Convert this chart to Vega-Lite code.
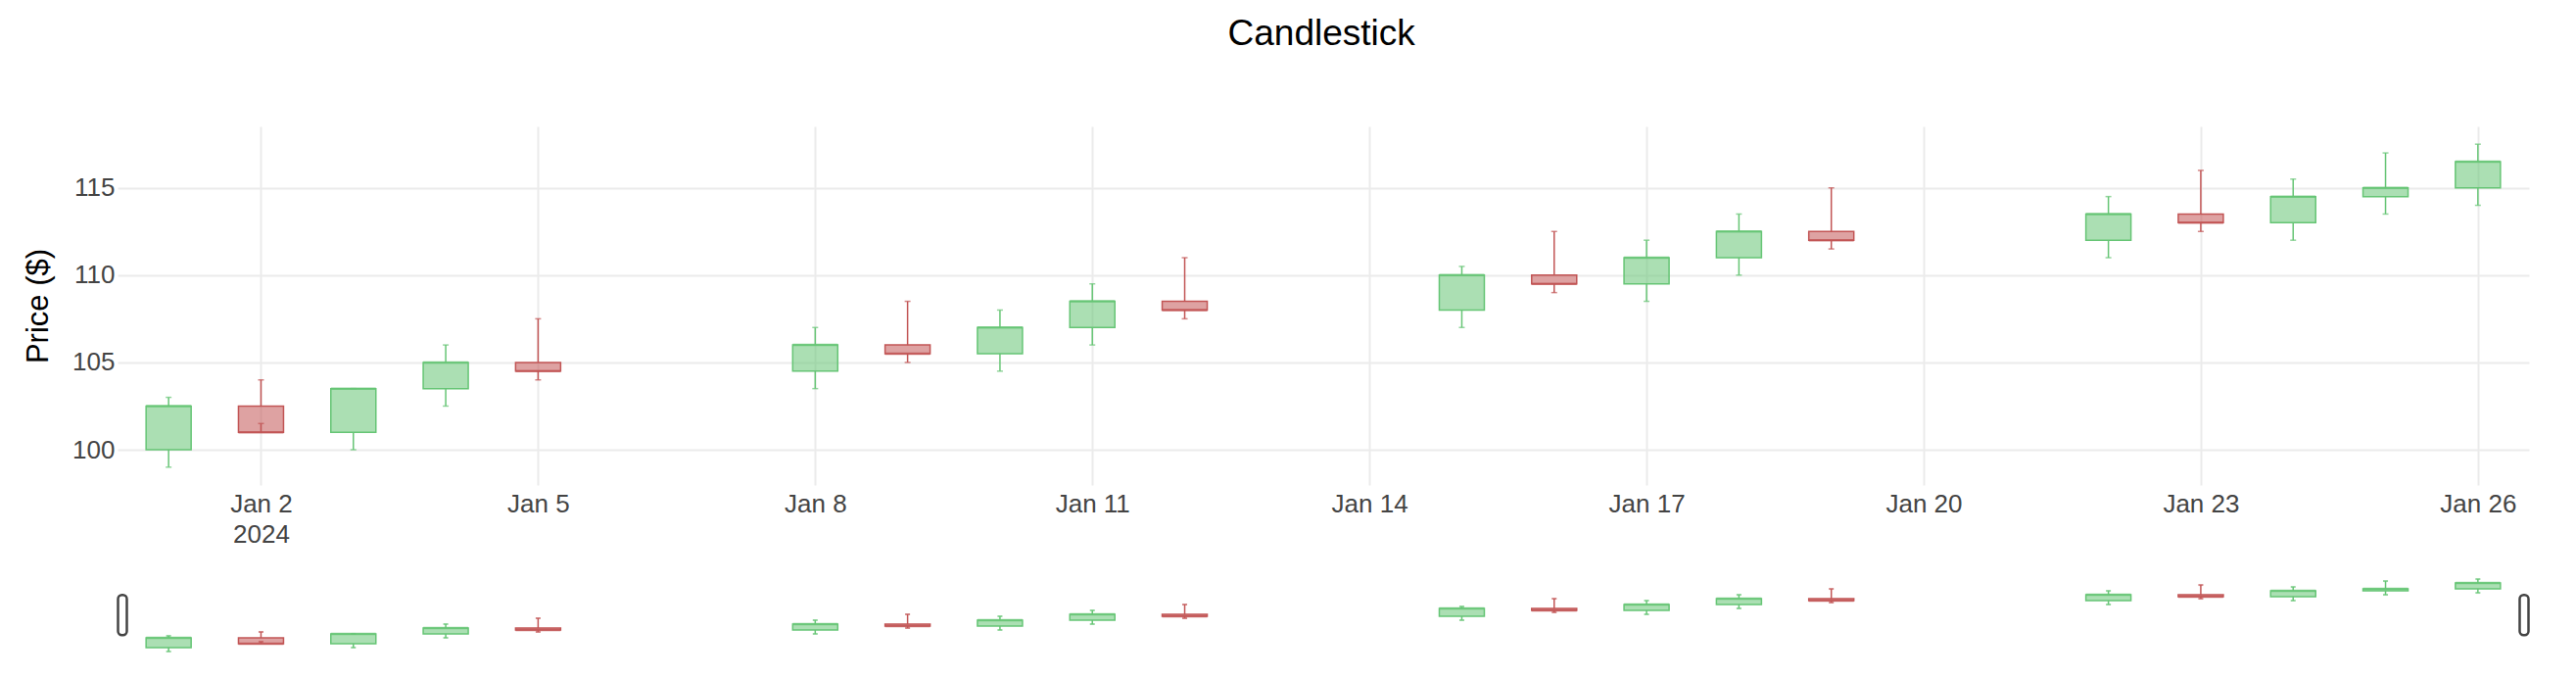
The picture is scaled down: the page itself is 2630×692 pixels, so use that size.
{
  "$schema": "https://vega.github.io/schema/vega-lite/v6.json",
  "background": "white",
  "padding": {"left": 23, "top": 16, "right": 36, "bottom": 22},
  "title": {"text": "Candlestick", "fontSize": 37, "font": "Liberation Sans", "fontWeight": "normal", "color": "#000000", "anchor": "middle", "baseline": "alphabetic", "offset": 46, "dx": 46},
  "data": {"values": [
    {"date": "2024-01-01T00:00:00", "open": 100, "high": 103, "low": 99, "close": 102.5},
    {"date": "2024-01-02T00:00:00", "open": 102.5, "high": 104, "low": 101.5, "close": 101},
    {"date": "2024-01-03T00:00:00", "open": 101, "high": 103.5, "low": 100, "close": 103.5},
    {"date": "2024-01-04T00:00:00", "open": 103.5, "high": 106, "low": 102.5, "close": 105},
    {"date": "2024-01-05T00:00:00", "open": 105, "high": 107.5, "low": 104, "close": 104.5},
    {"date": "2024-01-08T00:00:00", "open": 104.5, "high": 107, "low": 103.5, "close": 106},
    {"date": "2024-01-09T00:00:00", "open": 106, "high": 108.5, "low": 105, "close": 105.5},
    {"date": "2024-01-10T00:00:00", "open": 105.5, "high": 108, "low": 104.5, "close": 107},
    {"date": "2024-01-11T00:00:00", "open": 107, "high": 109.5, "low": 106, "close": 108.5},
    {"date": "2024-01-12T00:00:00", "open": 108.5, "high": 111, "low": 107.5, "close": 108},
    {"date": "2024-01-15T00:00:00", "open": 108, "high": 110.5, "low": 107, "close": 110},
    {"date": "2024-01-16T00:00:00", "open": 110, "high": 112.5, "low": 109, "close": 109.5},
    {"date": "2024-01-17T00:00:00", "open": 109.5, "high": 112, "low": 108.5, "close": 111},
    {"date": "2024-01-18T00:00:00", "open": 111, "high": 113.5, "low": 110, "close": 112.5},
    {"date": "2024-01-19T00:00:00", "open": 112.5, "high": 115, "low": 111.5, "close": 112},
    {"date": "2024-01-22T00:00:00", "open": 112, "high": 114.5, "low": 111, "close": 113.5},
    {"date": "2024-01-23T00:00:00", "open": 113.5, "high": 116, "low": 112.5, "close": 113},
    {"date": "2024-01-24T00:00:00", "open": 113, "high": 115.5, "low": 112, "close": 114.5},
    {"date": "2024-01-25T00:00:00", "open": 114.5, "high": 117, "low": 113.5, "close": 115},
    {"date": "2024-01-26T00:00:00", "open": 115, "high": 117.5, "low": 114, "close": 116.5}
  ]},
  "bounds": "flush",
  "spacing": 92,
  "vconcat": [
    {
      "width": 2462,
      "height": 366,
      "encoding": {
        "x": {
          "field": "date", "type": "temporal",
          "scale": {"domain": [{"year": 2023, "month": 12, "date": 31, "hours": 12}, {"year": 2024, "month": 1, "date": 26, "hours": 12}]},
          "axis": {
            "title": null,
            "values": [
              {"year": 2024, "month": 1, "date": 2}, {"year": 2024, "month": 1, "date": 5}, {"year": 2024, "month": 1, "date": 8},
              {"year": 2024, "month": 1, "date": 11}, {"year": 2024, "month": 1, "date": 14}, {"year": 2024, "month": 1, "date": 17},
              {"year": 2024, "month": 1, "date": 20}, {"year": 2024, "month": 1, "date": 23}, {"year": 2024, "month": 1, "date": 26}
            ],
            "labelExpr": "date(datum.value) == 2 ? [timeFormat(datum.value, '%b %-d'), '2024'] : timeFormat(datum.value, '%b %-d')",
            "grid": true, "gridColor": "#ebebeb", "gridWidth": 2,
            "domain": false, "ticks": false,
            "labelFont": "Liberation Sans", "labelFontSize": 26, "labelColor": "#444444",
            "labelPadding": 6, "labelLineHeight": 31, "labelOverlap": false, "labelFlush": false,
            "labelBaseline": "top"
          }
        }
      },
      "layer": [
        {
          "mark": {"type": "bar", "width": 46, "fillOpacity": 0.55, "strokeWidth": 1.5},
          "encoding": {
            "y": {
              "field": "open", "type": "quantitative", "title": "Price ($)",
              "scale": {"domain": [97.98, 118.52], "nice": false, "zero": false},
              "axis": {
                "title": "Price ($)", "values": [100, 105, 110, 115],
                "grid": true, "gridColor": "#ebebeb", "gridWidth": 2,
                "domain": false, "ticks": false,
                "labelFont": "Liberation Sans", "labelFontSize": 26, "labelColor": "#444444", "labelPadding": 3,
                "titleFont": "Liberation Sans", "titleFontSize": 31, "titleFontWeight": "normal", "titleColor": "#000000", "titlePadding": 18
              }
            },
            "y2": {"field": "close"},
            "fill": {"condition": {"test": "datum.close >= datum.open", "value": "#66c575"}, "value": "#c25555"},
            "stroke": {"condition": {"test": "datum.close >= datum.open", "value": "#66c575"}, "value": "#c25555"}
          }
        },
        {
          "transform": [{"filter": "datum.close >= datum.open"}],
          "mark": {"type": "rule", "color": "#66c575", "strokeWidth": 1.5},
          "encoding": {"y": {"field": "high", "type": "quantitative", "title": "Price ($)"}, "y2": {"field": "close"}}
        },
        {
          "transform": [{"filter": "datum.close >= datum.open"}],
          "mark": {"type": "rule", "color": "#66c575", "strokeWidth": 1.5},
          "encoding": {"y": {"field": "low", "type": "quantitative", "title": "Price ($)"}, "y2": {"field": "open"}}
        },
        {
          "transform": [{"filter": "datum.close < datum.open"}],
          "mark": {"type": "rule", "color": "#c25555", "strokeWidth": 1.5},
          "encoding": {"y": {"field": "high", "type": "quantitative", "title": "Price ($)"}, "y2": {"field": "open"}}
        },
        {
          "transform": [{"filter": "datum.close < datum.open"}],
          "mark": {"type": "rule", "color": "#c25555", "strokeWidth": 1.5},
          "encoding": {"y": {"field": "low", "type": "quantitative", "title": "Price ($)"}, "y2": {"field": "close"}}
        },
        {
          "mark": {"type": "tick", "orient": "horizontal", "size": 46, "thickness": 2.5},
          "encoding": {
            "y": {"field": "close", "type": "quantitative", "title": "Price ($)"},
            "color": {"condition": {"test": "datum.close >= datum.open", "value": "#66c575"}, "value": "#c25555"}
          }
        },
        {
          "mark": {"type": "tick", "orient": "horizontal", "size": 6, "thickness": 1.5},
          "encoding": {
            "y": {"field": "high", "type": "quantitative", "title": "Price ($)"},
            "color": {"condition": {"test": "datum.close >= datum.open", "value": "#66c575"}, "value": "#c25555"}
          }
        },
        {
          "mark": {"type": "tick", "orient": "horizontal", "size": 6, "thickness": 1.5},
          "encoding": {
            "y": {"field": "low", "type": "quantitative", "title": "Price ($)"},
            "color": {"condition": {"test": "datum.close >= datum.open", "value": "#66c575"}, "value": "#c25555"}
          }
        }
      ]
    },
    {
      "width": 2462,
      "height": 82,
      "encoding": {
        "x": {
          "field": "date", "type": "temporal", "axis": null,
          "scale": {"domain": [{"year": 2023, "month": 12, "date": 31, "hours": 12}, {"year": 2024, "month": 1, "date": 26, "hours": 12}]}
        }
      },
      "layer": [
        {
          "transform": [{"filter": "datum.close >= datum.open"}],
          "mark": {"type": "rule", "color": "#66c575", "strokeWidth": 1.5},
          "encoding": {"y": {"field": "high", "type": "quantitative", "axis": null}, "y2": {"field": "close"}}
        },
        {
          "transform": [{"filter": "datum.close >= datum.open"}],
          "mark": {"type": "rule", "color": "#66c575", "strokeWidth": 1.5},
          "encoding": {"y": {"field": "low", "type": "quantitative", "axis": null}, "y2": {"field": "open"}}
        },
        {
          "transform": [{"filter": "datum.close < datum.open"}],
          "mark": {"type": "rule", "color": "#c25555", "strokeWidth": 1.5},
          "encoding": {"y": {"field": "high", "type": "quantitative", "axis": null}, "y2": {"field": "open"}}
        },
        {
          "transform": [{"filter": "datum.close < datum.open"}],
          "mark": {"type": "rule", "color": "#c25555", "strokeWidth": 1.5},
          "encoding": {"y": {"field": "low", "type": "quantitative", "axis": null}, "y2": {"field": "close"}}
        },
        {
          "mark": {"type": "bar", "width": 46, "fillOpacity": 0.55, "strokeWidth": 1.5},
          "encoding": {
            "y": {"field": "open", "type": "quantitative", "axis": null, "scale": {"domain": [97.98, 118.52], "nice": false, "zero": false}},
            "y2": {"field": "close"},
            "fill": {"condition": {"test": "datum.close >= datum.open", "value": "#66c575"}, "value": "#c25555"},
            "stroke": {"condition": {"test": "datum.close >= datum.open", "value": "#66c575"}, "value": "#c25555"}
          }
        },
        {
          "mark": {"type": "tick", "orient": "horizontal", "size": 46, "thickness": 2.5},
          "encoding": {
            "y": {"field": "close", "type": "quantitative", "axis": null},
            "color": {"condition": {"test": "datum.close >= datum.open", "value": "#66c575"}, "value": "#c25555"}
          }
        },
        {
          "mark": {"type": "tick", "orient": "horizontal", "size": 5, "thickness": 2},
          "encoding": {
            "y": {"field": "high", "type": "quantitative", "axis": null},
            "color": {"condition": {"test": "datum.close >= datum.open", "value": "#66c575"}, "value": "#c25555"}
          }
        },
        {
          "mark": {"type": "tick", "orient": "horizontal", "size": 5, "thickness": 2},
          "encoding": {
            "y": {"field": "low", "type": "quantitative", "axis": null},
            "color": {"condition": {"test": "datum.close >= datum.open", "value": "#66c575"}, "value": "#c25555"}
          }
        },
        {
          "data": {"values": [{"date": "2023-12-31T12:00:00"}, {"date": "2024-01-26T12:00:00"}]},
          "mark": {"type": "bar", "width": 9, "cornerRadius": 4, "fill": "white", "stroke": "#444444", "strokeWidth": 2.5},
          "encoding": {
            "y": {"datum": 113.43, "type": "quantitative", "axis": null},
            "y2": {"datum": 103.16}
          }
        }
      ]
    }
  ],
  "config": {
    "view": {"stroke": null},
    "font": "Liberation Sans"
  }
}
